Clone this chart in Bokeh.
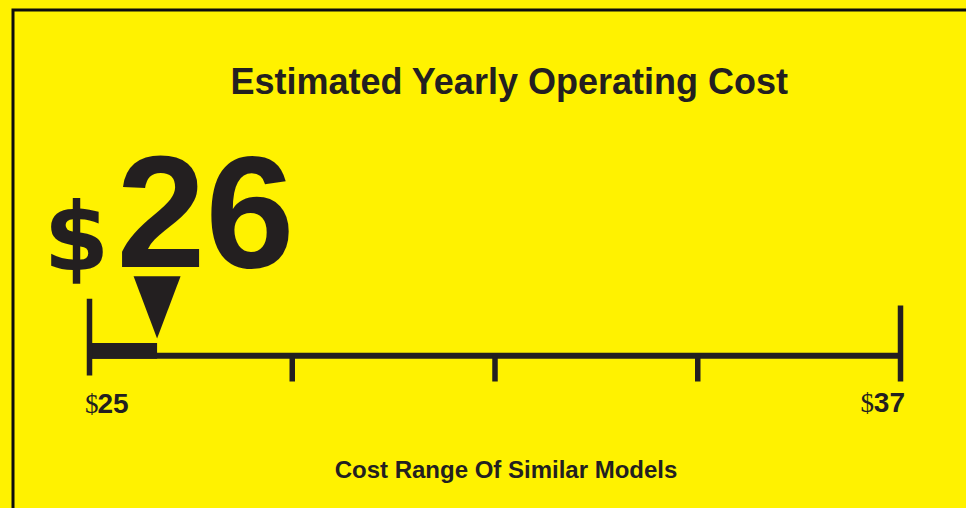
from bokeh.plotting import figure
from bokeh.models import Range1d, Label
from bokeh.embed import file_html
from bokeh.resources import INLINE

# ---- data ----
title_text = "Estimated Yearly Operating Cost"
range_text = "Cost Range Of Similar Models"
cost_min = 25
cost_max = 37
cost_value = 26
tick_costs = [25, 28, 31, 34, 37]
end_labels = ["25", "37"]
currency = "$"

# ---- layout (pixels of the page) ----
W, H = 966, 508
SCALE_LEFT_PX, SCALE_RIGHT_PX = 89, 900
px_per_unit = (SCALE_RIGHT_PX - SCALE_LEFT_PX) / (cost_max - cost_min)
x_start = cost_min - SCALE_LEFT_PX / px_per_unit
x_end = x_start + W / px_per_unit


def cx(px):
    """page pixel x -> cost units"""
    return x_start + px / px_per_unit


YELLOW = "#FFF200"
INK = "#231F20"

p = figure(width=W, height=H, output_backend="svg", toolbar_location=None,
           x_range=Range1d(x_start, x_end), y_range=Range1d(H, 0),
           min_border=0, background_fill_color=YELLOW, border_fill_color=YELLOW,
           outline_line_color=None, tools="")
p.axis.visible = False
p.grid.visible = False

# border (extends beyond right/bottom)
p.line(x=[cx(12.5), cx(12.5), cx(1200)], y=[800, 9.5, 9.5], line_width=3,
       line_color="#0d0d0d", line_join="miter")

# main scale line
p.segment(x0=[cost_min], x1=[cost_max], y0=[355.3], y1=[355.3],
          line_width=6, line_color=INK, line_cap="butt")
# thick bar from min to value
p.quad(left=[cost_min], right=[cost_value], top=[342.5], bottom=[358.3],
       fill_color=INK, line_color=None)
# ticks
tick_top = [298.3] + [355.3] * (len(tick_costs) - 2) + [305]
tick_bottom = [375] + [381] * (len(tick_costs) - 2) + [381]
p.segment(x0=tick_costs, x1=tick_costs, y0=tick_top, y1=tick_bottom,
          line_width=5.5, line_color=INK, line_cap="butt")

# arrow pointer
half_w = 23.5 / px_per_unit
p.patch(x=[cost_value - half_w, cost_value + half_w, cost_value],
        y=[275.7, 275.7, 338], fill_color=INK, line_color=None)


def label(xpx, baseline, text, font, size, bold=True, align="left"):
    p.add_layout(Label(x=cx(xpx), y=baseline - 0.35 * size, text=text,
                       text_font=font, text_font_style="bold" if bold else "normal",
                       text_font_size="%dpx" % size, text_color=INK,
                       text_align=align, text_baseline="alphabetic"))


label(509, 93.3, title_text, "Liberation Sans", 36, align="center")
label(76, 270, currency, "DejaVu Sans", 94, align="center")
label(116, 267, str(cost_value), "Liberation Sans", 160)

# left end label: starts at the tick
x_left = SCALE_LEFT_PX
label(x_left - 4.5, 412.7, currency, "Liberation Serif", 27, bold=False)
label(x_left + 8, 412.7, end_labels[0], "Liberation Sans", 28)
# right end label: ends at the tick
x_right = SCALE_LEFT_PX + (cost_max - cost_min) * px_per_unit
label(x_right + 4.5, 411.7, end_labels[1], "Liberation Sans", 28, align="right")
label(x_right - 26.5, 411.7, currency, "Liberation Serif", 27, bold=False, align="right")

label(505.5, 477.3, range_text, "Liberation Sans", 24, align="center")

html = file_html(p, INLINE)
html = html.replace("</head>", "<style>html,body{background:%s;}</style></head>" % YELLOW, 1)
open("out.html", "w").write(html)
